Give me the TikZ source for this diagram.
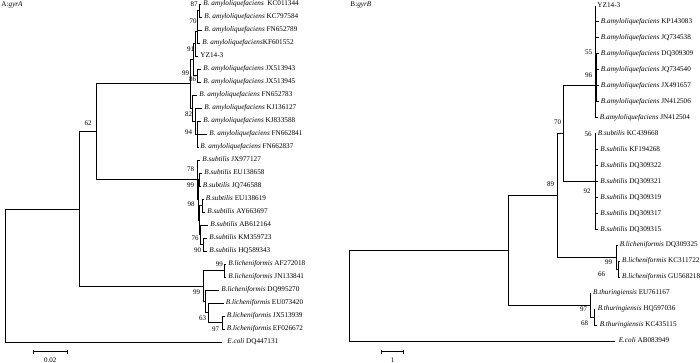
\documentclass[tikz,border=0pt]{standalone}
\usepackage{fontspec}
\setmainfont{Liberation Serif}
\usetikzlibrary{arrows.meta}
\newcommand{\bamy}{\textit{B. amyloliquefaciens}}
\newcommand{\bamyr}{\textit{B.amyloliquefaciens}}
\newcommand{\bsub}{\textit{B.subtilis}}
\newcommand{\blich}{\textit{B.licheniformis}}
\newcommand{\bthur}{\textit{B.thuringiensis}}
\newcommand{\ecoli}{\textit{E.coli}}
\begin{document}
\begin{tikzpicture} [x = 1pt, y = -1pt, line width = 0.9pt,
  leaf/.style = {anchor = west, inner xsep = 2pt, inner ysep = 0pt, text height = 5pt, text depth = 1.6pt, font = \fontsize{7.2}{8}\selectfont},
  boot/.style = {inner sep = 0pt, text height = 5pt, text depth = 1.6pt, font = \fontsize{7}{8}\selectfont}]
\useasboundingbox (0,0) rectangle (700,363);

\node[leaf, inner xsep = 1pt] (ta) at (0,5) {A:\textit{gyrA}};
\node[leaf, inner xsep = 1pt] (tb) at (349,5) {B:\textit{gyrB}};

\node[leaf] (a0) at (201,4) {\bamy\ \ KC011344};
\node[leaf] (a1) at (202,17) {\bamy\ KC797584};
\node[leaf] (a2) at (202,30) {\bamy\ FN652789};
\node[leaf] (a3) at (200,43) {\bamy KF601552};
\node[leaf] (a4) at (198,56) {YZ14-3};
\node[leaf] (a5) at (201,69) {\bamy\ JX513943};
\node[leaf] (a6) at (201,82) {\bamy\ JX513945};
\node[leaf] (a7) at (197,95) {\bamy\ FN652783};
\node[leaf] (a8) at (202,108) {\bamy\ KJ136127};
\node[leaf] (a9) at (201,121) {\bamy\ KJ833588};
\node[leaf] (a10) at (207,134) {\bamy\ FN662841};
\node[leaf] (a11) at (198,147) {\bamy\ FN662837};
\node[leaf] (a12) at (200,160) {\bsub\ JX977127};
\node[leaf] (a13) at (202,173) {\bsub\ EU138658};
\node[leaf] (a14) at (200.5,186) {\bsub\ JQ746588};
\node[leaf] (a15) at (203.5,199) {\bsub\ EU138619};
\node[leaf] (a16) at (205,212) {\bsub\ AY663697};
\node[leaf] (a17) at (208,225) {\bsub\ AB612164};
\node[leaf] (a18) at (207,238) {\bsub\ KM359723};
\node[leaf] (a19) at (207,251) {\bsub\ HQ589343};
\node[leaf] (a20) at (226,264) {\blich\ AF272018};
\node[leaf] (a21) at (226,277) {\blich\ JN133841};
\node[leaf] (a22) at (219,290) {\blich\ DQ995270};
\node[leaf] (a23) at (223.5,303) {\blich\ EU073420};
\node[leaf] (a24) at (224.5,316) {\blich\ JX513939};
\node[leaf] (a25) at (224.5,329) {\blich\ EF026672};
\node[leaf, inner xsep = 5pt] (a26) at (222,342) {\ecoli\ DQ447131};

\coordinate (u1) at (199.5,10.5);
\coordinate (u2) at (197.5,20.25);
\coordinate (u3) at (197,31.6);
\coordinate (u4) at (195,43.8);
\coordinate (u5) at (197.5,75.5);
\coordinate (u6) at (193,59.7);
\coordinate (u7) at (197.5,134);
\coordinate (u8) at (195.5,121);
\coordinate (u9) at (192,108);
\coordinate (u10) at (190.7,83.9);
\coordinate (u11) at (199.8,179.5);
\coordinate (u12) at (202,205.5);
\coordinate (u13) at (203.5,244.5);
\coordinate (u14) at (200,234.75);
\coordinate (u15) at (199,220.1);
\coordinate (u16) at (198,199.8);
\coordinate (u17) at (197,179.9);
\coordinate (u18) at (96.7,131.9);
\coordinate (u19) at (224,270.5);
\coordinate (u20) at (222,322.5);
\coordinate (u21) at (208.3,312.75);
\coordinate (u22) at (205,301.4);
\coordinate (u23) at (203.3,286);
\coordinate (u24) at (79.3,209);
\coordinate (u25) at (5,275.5);

\draw (u1) |- (a0.west); \draw (u1) |- (a1.west);
\draw (u2) |- (u1); \draw (u2) |- (a2.west);
\draw (u3) |- (u2); \draw (u3) |- (a3.west);
\draw (u4) |- (u3); \draw (u4) |- (a4.west);
\draw (u5) |- (a5.west); \draw (u5) |- (a6.west);
\draw (u6) |- (u4); \draw (u6) |- (u5);
\draw (u7) |- (a9.west); \draw (u7) |- (a10.west); \draw (u7) |- (a11.west);
\draw (u8) |- (a8.west); \draw (u8) |- (u7);
\draw (u9) |- (a7.west); \draw (u9) |- (u8);
\draw (u10) |- (u6); \draw (u10) |- (u9);
\draw (u11) |- (a13.west); \draw (u11) |- (a14.west);
\draw (u12) |- (a15.west); \draw (u12) |- (a16.west);
\draw (u13) |- (a18.west); \draw (u13) |- (a19.west);
\draw (u14) |- (a17.west); \draw (u14) |- (u13);
\draw (u15) |- (u12); \draw (u15) |- (u14);
\draw (u16) |- (u11); \draw (u16) |- (u15);
\draw (u17) |- (a12.west); \draw (u17) |- (u16);
\draw (u18) |- (u10); \draw (u18) |- (u17);
\draw (u19) |- (a20.west); \draw (u19) |- (a21.west);
\draw (u20) |- (a24.west); \draw (u20) |- (a25.west);
\draw (u21) |- (a23.west); \draw (u21) |- (u20);
\draw (u22) |- (a22.west); \draw (u22) |- (u21);
\draw (u23) |- (u19); \draw (u23) |- (u22);
\draw (u24) |- (u18); \draw (u24) |- (u23);
\draw (u25) |- (u24); \draw (u25) |- (a26.west);

\node[boot] (sa1) at (194,5) {87};
\node[boot] (sa2) at (193,22) {70};
\node[boot] (sa3) at (190.5,50) {91};
\node[boot] (sa4) at (185.5,73.5) {99};
\node[boot] (sa5) at (192.5,80) {86};
\node[boot] (sa6) at (188.5,115) {82};
\node[boot] (sa7) at (188.5,133) {94};
\node[boot] (sa8) at (88,124) {62};
\node[boot] (sa9) at (190.5,170) {78};
\node[boot] (sa10) at (190.5,186) {99};
\node[boot] (sa11) at (191,204.5) {98};
\node[boot] (sa12) at (195,239) {76};
\node[boot] (sa13) at (197.5,251) {90};
\node[boot] (sa14) at (219.3,264.3) {99};
\node[boot] (sa15) at (196.5,292.7) {99};
\node[boot] (sa16) at (202.5,318.3) {63};
\node[boot] (sa17) at (215.5,329.3) {97};

\coordinate (ka) at (32.7,351.7);
\coordinate (kb) at (67.7,351.7);
\draw[{Bar[width = 4pt]}-{Bar[width = 4pt]}] (ka) -- (kb);
\node[boot] (la) at (50.2,360.5) {0.02};

\node[leaf] (b0) at (595,6) {YZ14-3};
\node[leaf] (b1) at (598.5,21.95) {\bamyr\ KP143083};
\node[leaf] (b2) at (598.5,37.9) {\bamyr\ JQ734538};
\node[leaf] (b3) at (598.5,53.85) {\bamyr\ DQ309309};
\node[leaf] (b4) at (598.5,69.8) {\bamyr\ JQ734540};
\node[leaf] (b5) at (598.5,85.75) {\bamyr\ JX491657};
\node[leaf] (b6) at (598.5,101.7) {\bamyr\ JN412506};
\node[leaf] (b7) at (597.5,117.65) {\bamyr\ JN412504};
\node[leaf] (b8) at (595.5,133.6) {\bsub\ KC439668};
\node[leaf] (b9) at (598,149.55) {\bsub\ KF194268};
\node[leaf] (b10) at (598,165.5) {\bsub\ DQ309322};
\node[leaf] (b11) at (598,181.45) {\bsub\ DQ309321};
\node[leaf] (b12) at (598,197.4) {\bsub\ DQ309319};
\node[leaf] (b13) at (598,213.35) {\bsub\ DQ309317};
\node[leaf] (b14) at (598,229.3) {\bsub\ DQ309315};
\node[leaf] (b15) at (617.3,245.25) {\blich\ DQ309325};
\node[leaf] (b16) at (619.7,261.2) {\blich\ KC311722};
\node[leaf] (b17) at (619.7,277.15) {\blich\ GU568218};
\node[leaf] (b18) at (590.7,293.1) {\bthur\ EU761167};
\node[leaf] (b19) at (595.3,309.05) {\bthur\ HQ597036};
\node[leaf] (b20) at (597.3,325) {\bthur\ KC435115};
\node[leaf, inner xsep = 3.3pt] (b21) at (615,340.95) {\ecoli\ AB083949};

\coordinate (v1) at (596.3,77.8);
\coordinate (v2) at (595,53.85);
\coordinate (v3) at (595,85.75);
\coordinate (v4) at (595,181.45);
\coordinate (v5) at (563.3,133.6);
\coordinate (v6) at (618.5,269.2);
\coordinate (v7) at (616.7,257.2);
\coordinate (v8) at (557.3,195.4);
\coordinate (v9) at (594.3,317);
\coordinate (v10) at (590,305);
\coordinate (v11) at (508.3,250.3);
\coordinate (v12) at (349,295.6);

\draw (v1) |- (b3.west); \draw (v1) |- (b4.west); \draw (v1) |- (b5.west); \draw (v1) |- (b6.west);
\draw (v2) |- (b0.west); \draw (v2) |- (b1.west); \draw (v2) |- (b2.west); \draw (v2) |- (v1);
\draw (v3) |- (v2); \draw (v3) |- (b7.west);
\draw (v4) |- (b8.west); \draw (v4) |- (b9.west); \draw (v4) |- (b10.west); \draw (v4) |- (b11.west);
\draw (v4) |- (b12.west); \draw (v4) |- (b13.west); \draw (v4) |- (b14.west);
\draw (v5) |- (v3); \draw (v5) |- (v4);
\draw (v6) |- (b16.west); \draw (v6) |- (b17.west);
\draw (v7) |- (b15.west); \draw (v7) |- (v6);
\draw (v8) |- (v5); \draw (v8) |- (v7);
\draw (v9) |- (b19.west); \draw (v9) |- (b20.west);
\draw (v10) |- (b18.west); \draw (v10) |- (v9);
\draw (v11) |- (v8); \draw (v11) |- (v10);
\draw (v12) |- (v11); \draw (v12) |- (b21.west);

\node[boot] (sb1) at (588.5,52.5) {55};
\node[boot] (sb2) at (588.5,75.5) {96};
\node[boot] (sb3) at (557.5,122.7) {70};
\node[boot] (sb4) at (588,135) {56};
\node[boot] (sb5) at (550.5,185) {89};
\node[boot] (sb6) at (587,192) {92};
\node[boot] (sb7) at (608.5,262.7) {99};
\node[boot] (sb8) at (601.5,275) {66};
\node[boot] (sb9) at (583.5,309.3) {97};
\node[boot] (sb10) at (584.5,324) {68};

\coordinate (kc) at (381,351.5);
\coordinate (kd) at (404.3,351.5);
\draw[{Bar[width = 4pt]}-{Bar[width = 4pt]}] (kc) -- (kd);
\node[boot] (lb) at (392.7,360.5) {1};
\end{tikzpicture}
\end{document}
